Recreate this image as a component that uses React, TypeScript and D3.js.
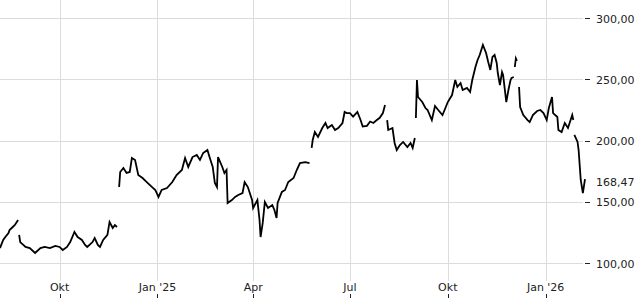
import React from "react";
import * as d3 from "d3";

type Pt = [string, number];

// Price segments (gaps between segments are breaks in the line)
const segmentA: Pt[] = [
  ["2024-08-06", 112.2], ["2024-08-09", 118.8], ["2024-08-11", 121.2], ["2024-08-14", 124.5],
  ["2024-08-15", 126.9], ["2024-08-18", 129.4], ["2024-08-20", 131.0], ["2024-08-23", 135.1],
];
const segmentB: Pt[] = [
  ["2024-08-24", 122.9], ["2024-08-25", 117.1], ["2024-08-30", 113.1], ["2024-09-03", 112.2],
  ["2024-09-08", 108.2], ["2024-09-13", 112.2], ["2024-09-17", 113.1], ["2024-09-22", 112.2],
  ["2024-09-27", 113.9], ["2024-10-01", 113.1], ["2024-10-04", 110.6], ["2024-10-08", 113.1],
  ["2024-10-11", 117.1], ["2024-10-15", 125.3], ["2024-10-18", 121.2], ["2024-10-22", 118.8],
  ["2024-10-25", 114.7], ["2024-10-27", 113.1], ["2024-11-01", 117.1], ["2024-11-03", 120.4],
  ["2024-11-06", 114.7], ["2024-11-08", 113.1], ["2024-11-11", 118.8], ["2024-11-15", 122.9],
  ["2024-11-17", 133.5], ["2024-11-20", 128.6], ["2024-11-22", 131.0], ["2024-11-24", 129.4],
];
const segmentC: Pt[] = [
  ["2024-11-26", 162.0], ["2024-11-27", 174.3], ["2024-11-30", 177.6], ["2024-12-03", 173.5],
  ["2024-12-06", 174.3], ["2024-12-08", 185.7], ["2024-12-11", 184.1], ["2024-12-14", 171.8],
  ["2024-12-18", 169.4], ["2024-12-22", 166.1], ["2024-12-27", 162.0], ["2024-12-30", 159.6],
  ["2025-01-02", 153.9], ["2025-01-05", 159.6], ["2025-01-10", 161.2], ["2025-01-15", 166.1],
  ["2025-01-19", 171.8], ["2025-01-24", 175.9], ["2025-01-27", 185.7], ["2025-01-30", 178.4],
  ["2025-02-03", 186.5], ["2025-02-07", 188.2], ["2025-02-10", 184.1], ["2025-02-13", 189.8],
  ["2025-02-17", 192.2], ["2025-02-19", 186.5], ["2025-02-22", 178.4], ["2025-02-24", 165.3],
  ["2025-02-26", 162.0], ["2025-02-27", 186.5], ["2025-03-03", 178.4], ["2025-03-05", 173.5],
  ["2025-03-07", 175.9], ["2025-03-08", 149.0], ["2025-03-12", 151.4], ["2025-03-15", 153.9],
  ["2025-03-18", 155.5], ["2025-03-22", 157.1], ["2025-03-24", 166.1], ["2025-03-27", 162.0],
  ["2025-03-31", 151.4], ["2025-04-01", 144.9], ["2025-04-05", 151.4], ["2025-04-07", 135.1],
  ["2025-04-08", 121.2], ["2025-04-10", 132.7], ["2025-04-12", 149.8], ["2025-04-15", 144.9],
  ["2025-04-19", 147.3], ["2025-04-21", 143.3], ["2025-04-23", 136.7], ["2025-04-24", 149.0],
  ["2025-04-28", 158.0], ["2025-05-01", 159.6], ["2025-05-04", 166.1], ["2025-05-09", 169.4],
  ["2025-05-12", 175.9], ["2025-05-15", 181.6], ["2025-05-20", 182.4], ["2025-05-24", 181.6],
];
const segmentD: Pt[] = [
  ["2025-05-26", 193.9], ["2025-05-27", 200.4], ["2025-05-29", 206.9], ["2025-06-01", 202.9],
  ["2025-06-05", 210.2], ["2025-06-08", 214.3], ["2025-06-10", 210.2], ["2025-06-14", 212.7],
  ["2025-06-17", 208.6], ["2025-06-20", 210.2], ["2025-06-24", 214.3], ["2025-06-26", 223.3],
  ["2025-06-28", 222.4], ["2025-07-01", 222.4], ["2025-07-04", 219.5], ["2025-07-08", 223.3],
  ["2025-07-11", 216.7], ["2025-07-13", 211.5], ["2025-07-17", 212.0], ["2025-07-20", 215.5],
  ["2025-07-23", 214.3], ["2025-07-26", 216.5], ["2025-07-29", 218.5], ["2025-08-01", 222.4],
  ["2025-08-03", 229.0],
];
const segmentE: Pt[] = [
  ["2025-08-05", 216.7], ["2025-08-06", 208.6], ["2025-08-10", 210.2], ["2025-08-12", 198.0],
  ["2025-08-14", 192.2], ["2025-08-17", 196.3], ["2025-08-20", 198.8], ["2025-08-24", 194.7],
  ["2025-08-27", 198.0], ["2025-08-29", 193.9], ["2025-08-31", 202.0],
];
const segmentF: Pt[] = [
  ["2025-09-01", 218.4], ["2025-09-02", 249.4], ["2025-09-03", 235.5], ["2025-09-07", 231.4],
  ["2025-09-10", 226.5], ["2025-09-12", 224.9], ["2025-09-16", 216.7], ["2025-09-19", 228.2],
  ["2025-09-22", 224.9], ["2025-09-26", 220.8], ["2025-09-28", 224.9], ["2025-10-01", 231.4],
  ["2025-10-05", 237.1], ["2025-10-08", 249.4], ["2025-10-10", 243.7], ["2025-10-13", 246.9],
  ["2025-10-15", 241.2], ["2025-10-19", 242.9], ["2025-10-22", 239.6], ["2025-10-24", 249.4],
  ["2025-10-27", 260.0], ["2025-10-29", 265.7], ["2025-10-31", 269.8], ["2025-11-03", 278.0],
  ["2025-11-06", 271.4], ["2025-11-08", 264.1], ["2025-11-10", 257.6], ["2025-11-12", 268.2],
  ["2025-11-14", 269.8], ["2025-11-16", 263.3], ["2025-11-17", 255.1], ["2025-11-19", 245.3],
  ["2025-11-21", 255.9], ["2025-11-22", 253.5], ["2025-11-25", 231.4], ["2025-11-27", 241.2],
  ["2025-11-29", 249.4], ["2025-11-30", 251.0], ["2025-12-02", 251.8],
];
const segmentG: Pt[] = [
  ["2025-12-03", 260.0], ["2025-12-04", 267.0], ["2025-12-05", 265.0],
];
const segmentH: Pt[] = [
  ["2025-12-07", 243.7], ["2025-12-08", 227.3], ["2025-12-11", 220.8], ["2025-12-15", 216.7],
  ["2025-12-17", 215.1], ["2025-12-20", 220.8], ["2025-12-24", 224.1], ["2025-12-27", 224.9],
  ["2025-12-30", 222.4], ["2026-01-02", 216.7], ["2026-01-04", 226.5], ["2026-01-07", 235.5],
  ["2026-01-08", 222.4], ["2026-01-12", 219.2], ["2026-01-13", 208.6], ["2026-01-16", 206.9],
  ["2026-01-19", 214.3], ["2026-01-22", 210.2], ["2026-01-26", 220.8], ["2026-01-27", 216.7],
];
const segmentI: Pt[] = [
  ["2026-01-28", 204.5], ["2026-01-31", 198.8], ["2026-02-01", 192.2], ["2026-02-02", 180.0],
  ["2026-02-03", 167.8], ["2026-02-05", 157.1], ["2026-02-07", 168.47],
];

const segments: Pt[][] = [segmentA, segmentB, segmentC, segmentD, segmentE, segmentF, segmentG, segmentH, segmentI];

const xTickDates = ["2024-10-01", "2025-01-01", "2025-04-01", "2025-07-01", "2025-10-01", "2026-01-01"];
const xTickLabels = ["Okt", "Jan '25", "Apr", "Jul", "Okt", "Jan '26"];
const yTicks = [100, 150, 200, 250, 300];
const lastValue = 168.47;

const W = 640;
const H = 300;
const plotRight = 583;
const plotBottom = 281;

const parse = d3.utcParse("%Y-%m-%d");
const fmt = (v: number) => v.toFixed(2).replace(".", ",");

export default function App() {
  const x = d3
    .scaleUtc()
    .domain([parse("2024-08-06")!, parse("2026-02-07")!])
    .range([0, 585]);
  const y = d3.scaleLinear().domain([100, 300]).range([263, 18]);
  const line = d3
    .line<Pt>()
    .x((d) => x(parse(d[0])!))
    .y((d) => y(d[1]));

  const font = "DejaVu Sans, Verdana, sans-serif";

  return (
    <div style={{ position: "absolute", left: 0, top: 0 }}>
      <svg width={W} height={H} style={{ display: "block" }}>
        <rect width={W} height={H} fill="#fff" />
        {yTicks.map((t) => (
          <line key={"hg" + t} x1={0} x2={plotRight} y1={Math.round(y(t)) + 0.5} y2={Math.round(y(t)) + 0.5} stroke="#dcdcdc" strokeWidth={1} />
        ))}
        {xTickDates.map((d) => {
          const xx = Math.round(x(parse(d)!)) + 0.5;
          return <line key={"vg" + d} x1={xx} x2={xx} y1={0} y2={plotBottom} stroke="#dcdcdc" strokeWidth={1} />;
        })}
        {segments.map((s, i) => (
          <path key={"s" + i} d={line(s) || ""} fill="none" stroke="#000" strokeWidth={1.8} strokeLinejoin="miter" />
        ))}
        {yTicks.map((t) => (
          <g key={"yt" + t}>
            <line x1={585} x2={590} y1={Math.round(y(t)) + 0.5} y2={Math.round(y(t)) + 0.5} stroke="#222" strokeWidth={1} />
            <text x={596} y={y(t)} dy="0.42em" fontSize={11} fontFamily={font} fill="#222">
              {fmt(t)}
            </text>
          </g>
        ))}
        <text x={596} y={y(lastValue)} dy="0.62em" fontSize={11} fontFamily={font} fill="#222">
          {fmt(lastValue)}
        </text>
        {xTickDates.map((d, i) => {
          const xx = x(parse(d)!);
          return (
            <g key={"xt" + d}>
              <text x={xx} y={291} textAnchor="middle" fontSize={11} fontFamily={font} fill="#222">
                {xTickLabels[i]}
              </text>
              <line x1={Math.round(xx) + 0.5} x2={Math.round(xx) + 0.5} y1={294} y2={298} stroke="#222" strokeWidth={1} />
            </g>
          );
        })}
      </svg>
    </div>
  );
}
